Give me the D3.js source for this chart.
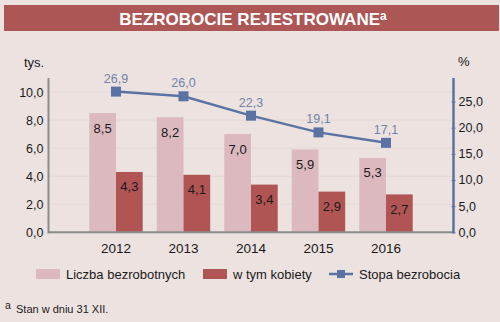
<!DOCTYPE html>
<html>
<head>
<meta charset="utf-8">
<script src="https://cdn.jsdelivr.net/npm/d3@7"></script>
<style>
  html, body { margin: 0; padding: 0; background: #ece2e0; }
  svg { display: block; font-family: "Liberation Sans", Arial, sans-serif; }
</style>
</head>
<body>
<svg id="chart" width="500" height="322"></svg>
<script>
// Registered unemployment (thousands) and unemployment rate (%)
const years = ["2012", "2013", "2014", "2015", "2016"];
const unemployed = [8.5, 8.2, 7.0, 5.9, 5.3];
const women = [4.3, 4.1, 3.4, 2.9, 2.7];
const rate = [26.9, 26.0, 22.3, 19.1, 17.1];
const leftTicks = [0, 2, 4, 6, 8, 10];
const rightTicks = [0, 5, 10, 15, 20, 25];

const fmt = v => d3.format(".1f")(v).replace(".", ",");

const svg = d3.select("#chart");
const W = 500, H = 322;

const colBg = "#ece2e0";
const colLight = "#dcb9be";
const colDark = "#b05454";
const colLine = "#5b73a3";
const colLineLabel = "#7183a8";
const colText = "#1a1a1a";

svg.append("rect").attr("width", W).attr("height", H).attr("fill", colBg);

// Title bar
svg.append("rect").attr("x", 4).attr("y", 5).attr("width", 495).attr("height", 26).attr("fill", "#ad5656");
const title = svg.append("text")
  .attr("x", 253).attr("y", 25)
  .attr("text-anchor", "middle")
  .attr("fill", "#fff")
  .attr("font-weight", "bold")
  .attr("font-size", 17);
title.append("tspan").text("BEZROBOCIE REJESTROWANE");
title.append("tspan").attr("font-size", 12).attr("dy", -5).text("a");

const plotL = 48.5, plotR = 453.5, plotT = 78, plotB = 232.3;

const x = d3.scalePoint().domain(years).range([plotL, plotR]).padding(1);
const yL = d3.scaleLinear().domain([0, 11]).range([plotB, plotT]);
const yR = d3.scaleLinear().domain([0, 29.5]).range([plotB, plotT]);
const bw = 26.7;

// Faint gridlines
svg.append("g").selectAll("line").data(leftTicks.filter(d => d > 0)).join("line")
  .attr("x1", plotL).attr("x2", plotR)
  .attr("y1", d => yL(d)).attr("y2", d => yL(d))
  .attr("stroke", "#e4d8d6").attr("stroke-width", 1);

// Bars
svg.append("g").selectAll("rect").data(years).join("rect")
  .attr("x", d => x(d) - bw).attr("width", bw)
  .attr("y", (d, i) => yL(unemployed[i]))
  .attr("height", (d, i) => plotB - yL(unemployed[i]))
  .attr("fill", colLight);
svg.append("g").selectAll("rect").data(years).join("rect")
  .attr("x", d => x(d)).attr("width", bw)
  .attr("y", (d, i) => yL(women[i]))
  .attr("height", (d, i) => plotB - yL(women[i]))
  .attr("fill", colDark);

// Bar labels
svg.append("g").selectAll("text").data(years).join("text")
  .attr("x", d => x(d) - bw / 2)
  .attr("y", (d, i) => yL(unemployed[i]) + 19.5)
  .attr("text-anchor", "middle").attr("font-size", 13).attr("fill", colText)
  .text((d, i) => fmt(unemployed[i]));
svg.append("g").selectAll("text").data(years).join("text")
  .attr("x", d => x(d) + bw / 2)
  .attr("y", (d, i) => yL(women[i]) + 19.5)
  .attr("text-anchor", "middle").attr("font-size", 13).attr("fill", colText)
  .text((d, i) => fmt(women[i]));

// Axes
const axisL = svg.append("g").attr("transform", `translate(${plotL},0)`)
  .call(d3.axisLeft(yL).tickValues(leftTicks).tickSize(0).tickPadding(5).tickFormat(fmt));
axisL.select(".domain").remove();
axisL.selectAll("text").attr("font-size", 12.5).attr("fill", colText)
  .attr("font-family", "Liberation Sans, Arial, sans-serif");
svg.append("line").attr("x1", plotL).attr("x2", plotL).attr("y1", plotT).attr("y2", plotB + 1)
  .attr("stroke", "#8c8c8c").attr("stroke-width", 2);
svg.append("line").attr("x1", plotL).attr("x2", plotR).attr("y1", plotB).attr("y2", plotB)
  .attr("stroke", "#8c8c8c").attr("stroke-width", 2);

const axisR = svg.append("g").attr("transform", `translate(${plotR},0)`)
  .call(d3.axisRight(yR).tickValues(rightTicks).tickSize(3).tickPadding(2).tickFormat(fmt));
axisR.select(".domain").remove();
axisR.selectAll(".tick line").attr("stroke", colLine).attr("x1", -2).attr("x2", 2);
axisR.selectAll("text").attr("font-size", 12.5).attr("fill", colText)
  .attr("font-family", "Liberation Sans, Arial, sans-serif");
svg.append("line").attr("x1", plotR).attr("x2", plotR).attr("y1", plotT).attr("y2", plotB + 1)
  .attr("stroke", colLine).attr("stroke-width", 2.5);

// Year labels
svg.append("g").selectAll("text").data(years).join("text")
  .attr("x", d => x(d)).attr("y", 253)
  .attr("text-anchor", "middle").attr("font-size", 13.5).attr("fill", colText)
  .text(d => d);

// Unit labels
svg.append("text").attr("x", 24).attr("y", 67).attr("font-size", 13).attr("fill", colText).text("tys.");
svg.append("text").attr("x", 458).attr("y", 66).attr("font-size", 13).attr("fill", colText).text("%");

// Rate line
const line = d3.line().x((d, i) => x(years[i])).y(d => yR(d));
svg.append("path").datum(rate).attr("d", line)
  .attr("fill", "none").attr("stroke", colLine).attr("stroke-width", 2.5);
svg.append("g").selectAll("rect").data(rate).join("rect")
  .attr("x", (d, i) => x(years[i]) - 5).attr("y", d => yR(d) - 5)
  .attr("width", 10).attr("height", 10).attr("fill", colLine);
svg.append("g").selectAll("text").data(rate).join("text")
  .attr("x", (d, i) => x(years[i])).attr("y", d => yR(d) - 9)
  .attr("text-anchor", "middle").attr("font-size", 12.5).attr("fill", colLineLabel)
  .text(d => fmt(d));

// Legend
const lg = svg.append("g").attr("font-size", 13).attr("fill", colText);
lg.append("rect").attr("x", 36).attr("y", 269).attr("width", 24).attr("height", 10).attr("fill", colLight);
lg.append("text").attr("x", 66).attr("y", 278.5).text("Liczba bezrobotnych");
lg.append("rect").attr("x", 203).attr("y", 269).attr("width", 24).attr("height", 10).attr("fill", colDark);
lg.append("text").attr("x", 233).attr("y", 278.5).text("w tym kobiety");
lg.append("line").attr("x1", 329).attr("x2", 353).attr("y1", 274).attr("y2", 274)
  .attr("stroke", colLine).attr("stroke-width", 2.5);
lg.append("rect").attr("x", 337).attr("y", 270).attr("width", 8).attr("height", 8).attr("fill", colLine);
lg.append("text").attr("x", 359).attr("y", 278.5).text("Stopa bezrobocia");

// Footnote
svg.append("text").attr("x", 5).attr("y", 309).attr("font-size", 10.5).attr("fill", colText).text("a");
svg.append("text").attr("x", 16).attr("y", 313).attr("font-size", 11).attr("fill", colText).text("Stan w dniu 31 XII.");
</script>
</body>
</html>
